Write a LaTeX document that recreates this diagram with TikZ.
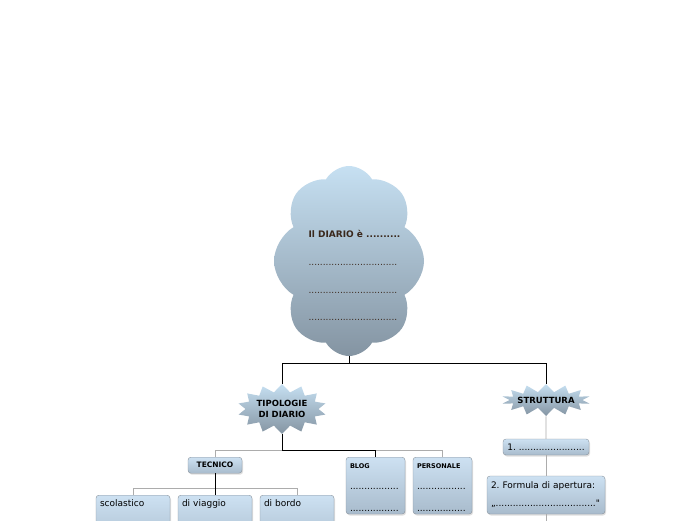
\documentclass[tikz,border=0pt]{standalone}
\usepackage{fontspec}
\setmainfont{DejaVu Sans}
\usepackage{tikz}
\usetikzlibrary{shapes.symbols,shadows}
\definecolor{boxtop}{HTML}{CDE1F2}
\definecolor{boxbot}{HTML}{A8BBCC}
\definecolor{boxline}{HTML}{8A949E}
\definecolor{cloudtop}{HTML}{C6E0F2}
\definecolor{cloudbot}{HTML}{8494A2}
\definecolor{txtbrown}{HTML}{3A281C}
\frenchspacing

\begin{document}
\begin{tikzpicture}[x=1pt, y=-1pt,
    every node/.style={align=left, font=\fontsize{9}{10}\selectfont},
    box/.style={draw=boxline, rounded corners=3pt, top color=boxtop, bottom color=boxbot, drop shadow={opacity=0.25, shadow xshift=1pt, shadow yshift=-1.5pt}},
    burst/.style={starburst, random starburst=0, starburst points=14, starburst point height=8pt, inner xsep=-4pt, inner ysep=0pt, top color=cloudtop, bottom color=cloudbot, draw=none, align=center, font=\bfseries\fontsize{8.5}{11}\selectfont},
    main/.style={draw=black, line width=0.6pt},
    conn/.style={draw=gray!65, line width=0.6pt}]
  \clip (0,0) rectangle (696,520);
  \fill[white] (0,0) rectangle (696,520);

  \node (diario) at (349,261) [cloud, cloud puffs=8, cloud puff arc=120, minimum width=150pt, minimum height=190pt, top color=cloudtop, bottom color=cloudbot] {};
  \node (diariotxt) at (305,227) [anchor=north west, text=txtbrown] {\textbf{Il DIARIO è ..........}\\[17.7pt]...............................\\[17.7pt]...............................\\[17.7pt]...............................};

  \node (tipologie) at (282,409) [burst, minimum width=89pt, minimum height=50pt] {TIPOLOGIE\\DI DIARIO};
  \node (struttura) at (546,400) [burst, minimum width=89pt, minimum height=32pt] {STRUTTURA};

  \node (tecnico) at (215,457) [box, anchor=north, minimum width=54pt, minimum height=16pt, inner sep=2pt, align=center, font=\bfseries\fontsize{7.5}{9}\selectfont] {TECNICO};
  \node (scolastico) at (133,495) [box, anchor=north, text width=66pt, text depth=40pt, inner sep=4pt] {scolastico};
  \node (viaggio) at (215,495) [box, anchor=north, text width=66pt, text depth=40pt, inner sep=4pt] {di viaggio};
  \node (bordo) at (297,495) [box, anchor=north, text width=66pt, text depth=40pt, inner sep=4pt] {di bordo};
  \node (blog) at (375.5,457) [box, anchor=north, text width=51pt, text depth=40pt, inner xsep=4pt, inner ysep=6pt] {{\bfseries\fontsize{6.5}{8}\selectfont BLOG}\\[11.5pt].................\\[12pt].................};
  \node (personale) at (442.5,457) [box, anchor=north, text width=51pt, text depth=40pt, inner xsep=4pt, inner ysep=6pt] {{\bfseries\fontsize{6.5}{8}\selectfont PERSONALE}\\[11.5pt].................\\[12pt].................};

  \node (uno) at (546,447) [box, minimum width=86pt, minimum height=16pt, inner sep=3pt] {1. .......................};
  \node (due) at (546,495) [box, text width=110pt, minimum height=38pt, inner sep=4pt] {2. Formula di apertura:\\[8pt]„...................................\textquotedbl};
  \coordinate (dueout) at (546,530);

  \draw[main] (diario.south) -- ++(0,7) -| (tipologie.north);
  \draw[main] (diario.south) -- ++(0,7) -| (struttura.north);
  \draw[conn] (tipologie.south) -- ++(0,16) -| (tecnico.north);
  \draw[conn] (tipologie.south) -- ++(0,16) -| (personale.north);
  \draw[main] (tipologie.south) -- ++(0,16) -| (blog.north);
  \draw[conn] (tecnico.south) -- ++(0,15) -| (scolastico.north);
  \draw[conn] (tecnico.south) -- ++(0,15) -| (bordo.north);
  \draw[main] (tecnico.south) -- (viaggio.north);
  \draw[conn] (struttura.south) -- (uno.north);
  \draw[conn] (uno.south) -- (due.north);
  \draw[conn] (due.south) -- (dueout);
\end{tikzpicture}
\end{document}
